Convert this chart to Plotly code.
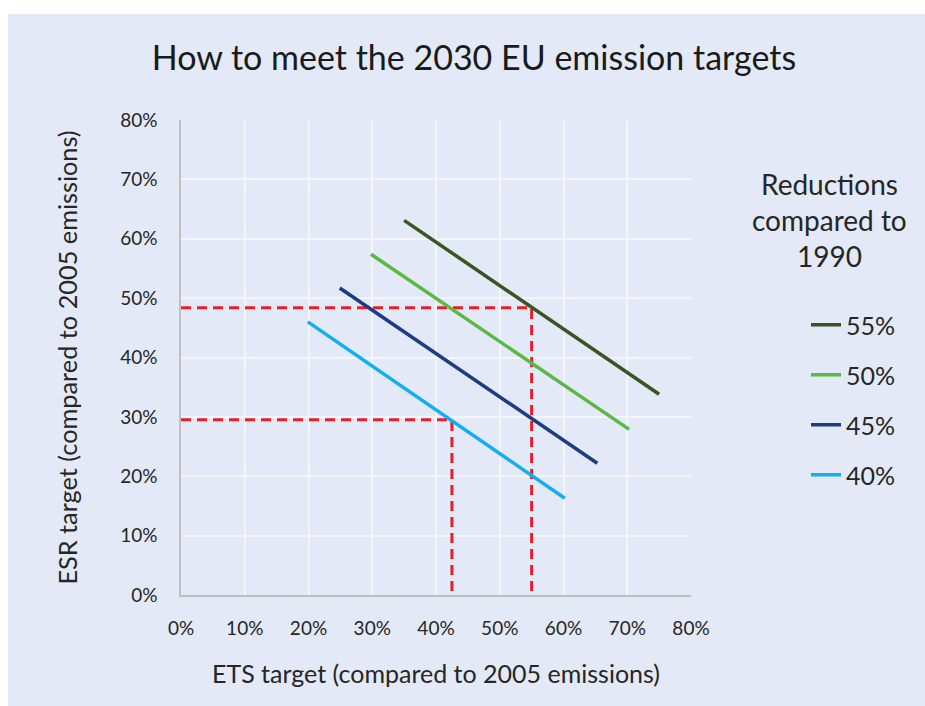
import plotly.graph_objects as go

# Data
series_names = ["55%", "50%", "45%", "40%"]
ets_55 = [35, 75]
esr_55 = [63.1, 33.8]
ets_50 = [29.8, 70.3]
esr_50 = [57.4, 27.9]
ets_45 = [24.9, 65.3]
esr_45 = [51.7, 22.2]
ets_40 = [19.9, 60.2]
esr_40 = [46.0, 16.3]
colors = ["#375623", "#5ab946", "#1c3d86", "#12aef0"]

# Guide lines (red dashed)
guide_a_x = [0, 55, 55]
guide_a_y = [48.4, 48.4, 0]
guide_b_x = [0, 42.5, 42.5]
guide_b_y = [29.5, 29.5, 0]

x_ticks = [0, 10, 20, 30, 40, 50, 60, 70, 80]
y_ticks = [0, 10, 20, 30, 40, 50, 60, 70, 80]
tick_labels = ["0%", "10%", "20%", "30%", "40%", "50%", "60%", "70%", "80%"]
legend_title_lines = ["Reductions", "compared to", "1990"]

FONT = "Lato, sans-serif"
BG = "#e3e9f6"
TXT = "#262626"

W, H = 925, 706
ML, MR, MT, MB = 181, 234, 120, 111

fig = go.Figure()

for gx, gy in [(guide_a_x, guide_a_y), (guide_b_x, guide_b_y)]:
    fig.add_trace(go.Scatter(x=gx, y=gy, mode="lines",
                             line=dict(color="#ee1c25", width=3, dash="10px,6px"),
                             showlegend=False, hoverinfo="skip"))

for name, xs, ys, c in zip(series_names,
                           [ets_55, ets_50, ets_45, ets_40],
                           [esr_55, esr_50, esr_45, esr_40], colors):
    fig.add_trace(go.Scatter(x=xs, y=ys, mode="lines", name=name,
                             legendgroup=name,
                             line=dict(color=c, width=3.5)))

pw = W - ML - MR
ph = H - MT - MB


def px_x(p):
    return (p - ML) / pw


def px_y(p):
    return (H - MB - p) / ph


# white strips (outside the light-blue panel): top and left
fig.add_shape(type="rect", xref="paper", yref="paper",
              x0=px_x(-5), x1=px_x(W + 5), y0=px_y(14), y1=px_y(-5),
              fillcolor="white", line=dict(width=0), layer="below")
fig.add_shape(type="rect", xref="paper", yref="paper",
              x0=px_x(-5), x1=px_x(8), y0=px_y(H + 5), y1=px_y(-5),
              fillcolor="white", line=dict(width=0), layer="below")

for i, t in enumerate(legend_title_lines):
    fig.add_annotation(text=t, xref="paper", yref="paper",
                       x=px_x(829), y=px_y(184 + 36 * i), xanchor="center",
                       yanchor="middle", showarrow=False,
                       font=dict(family=FONT, size=28, color=TXT))

fig.update_layout(
    width=W, height=H,
    margin=dict(l=ML, r=MR, t=MT, b=MB),
    paper_bgcolor=BG,
    plot_bgcolor=BG,
    font=dict(family=FONT, color=TXT),
    title=dict(text="How to meet the 2030 EU emission targets",
               x=px_x(474), xref="paper", xanchor="center",
               y=1 - 58 / H, yanchor="middle",
               font=dict(family=FONT, size=34, color="#1a1a1a")),
    showlegend=True,
    legend=dict(x=px_x(806), y=px_y(302), xanchor="left", yanchor="top",
                bgcolor="rgba(0,0,0,0)", tracegroupgap=14.5,
                font=dict(family=FONT, size=25, color=TXT)),
    xaxis=dict(range=[0, 80], tickvals=x_ticks, ticktext=tick_labels,
               showgrid=True, gridcolor="#f4f5f8", gridwidth=1.5,
               showline=True, linecolor="#bfbfbf", linewidth=1.5,
               zeroline=False, ticks="outside", ticklen=15,
               tickcolor="rgba(0,0,0,0)",
               tickfont=dict(family=FONT, size=19, color=TXT),
               title=dict(text="ETS target (compared to 2005 emissions)",
                          standoff=28,
                          font=dict(family=FONT, size=25, color=TXT))),
    yaxis=dict(range=[0, 80], tickvals=y_ticks, ticktext=tick_labels,
               showgrid=True, gridcolor="#f4f5f8", gridwidth=1.5,
               showline=True, linecolor="#bfbfbf", linewidth=1.5,
               zeroline=False, ticks="outside", ticklen=18,
               tickcolor="rgba(0,0,0,0)",
               tickfont=dict(family=FONT, size=19, color=TXT),
               title=dict(text="ESR target (compared to 2005 emissions)",
                          standoff=35,
                          font=dict(family=FONT, size=25.3, color=TXT))),
)

# the chart fills the whole page: drop the default page margin and scrollbars
fig.write_html(
    "out.html",
    config={"displayModeBar": False},
    post_script="document.body.style.margin='0';"
                "document.documentElement.style.overflow='hidden';",
)
